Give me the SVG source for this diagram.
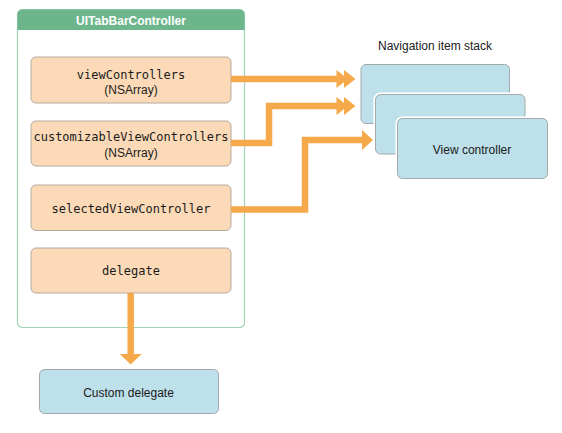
<svg xmlns="http://www.w3.org/2000/svg" width="562" height="433" viewBox="0 0 562 433">
<defs>
<style>
.prop{fill:#fcdab8;stroke:#b5aaa0;stroke-width:1}
.blue{fill:#bde0ea;stroke:#a3a8aa;stroke-width:1}
.halo{fill:none;stroke:#ffffff;stroke-width:4}
.mono{font-family:"DejaVu Sans Mono","Liberation Mono",monospace;font-size:12px;fill:#1a1a1a;text-anchor:middle}
.sans{font-family:"Liberation Sans",Arial,sans-serif;font-size:12px;fill:#1a1a1a;text-anchor:middle}
.wire{fill:none;stroke:#f6a94a;stroke-width:6.5;stroke-linejoin:miter}
.head{fill:#f6a94a}
</style>
</defs>
<rect width="562" height="433" fill="#ffffff"/>

<g id="tabbar">
<rect x="17.5" y="9.5" width="227" height="318" rx="5" fill="#ffffff" stroke="#9fd3b4" stroke-width="1.2"/>
<path d="M17.5 30 V14.5 a5 5 0 0 1 5 -5 H239.5 a5 5 0 0 1 5 5 V30 Z" fill="#6db68b"/>
<text x="131" y="24.5" font-family="Liberation Sans,Arial,sans-serif" font-size="12" font-weight="bold" fill="#ffffff" text-anchor="middle">UITabBarController</text>
</g>

<g id="viewControllers">
<rect class="prop" x="31" y="57" width="200" height="46" rx="5"/>
<text class="mono" x="131" y="79">viewControllers</text>
<text class="sans" x="131" y="94">(NSArray)</text>
</g>
<g id="customizableViewControllers">
<rect class="prop" x="31" y="121" width="200" height="45" rx="5"/>
<text class="mono" x="131" y="141">customizableViewControllers</text>
<text class="sans" x="131" y="157">(NSArray)</text>
</g>
<g id="selectedViewController">
<rect class="prop" x="31" y="185" width="200" height="45.5" rx="5"/>
<text class="mono" x="131" y="213">selectedViewController</text>
</g>
<g id="delegate">
<rect class="prop" x="31" y="248" width="200" height="45" rx="5"/>
<text class="mono" x="131" y="275">delegate</text>
</g>

<g id="navstack">
<text class="sans" x="435" y="50">Navigation item stack</text>
<rect class="halo" x="361" y="64.5" width="148.5" height="59" rx="5"/>
<rect class="blue" x="361" y="64.5" width="148.5" height="59" rx="5"/>
<rect class="halo" x="375.5" y="94.5" width="149.5" height="59.5" rx="5"/>
<rect class="blue" x="375.5" y="94.5" width="149.5" height="59.5" rx="5"/>
<rect class="halo" x="397.5" y="118.5" width="150" height="60" rx="5"/>
<rect class="blue" x="397.5" y="118.5" width="150" height="60" rx="5"/>
<text class="sans" x="472" y="153.5">View controller</text>
</g>

<g id="customDelegate">
<rect class="blue" x="39.5" y="369.5" width="179" height="44" rx="5"/>
<text class="sans" x="128.5" y="397">Custom delegate</text>
</g>

<g id="connectors">
<path class="wire" d="M231 79 H338"/>
<polygon class="head" points="336.5,70 348,79 336.5,88"/>
<polygon class="head" points="344,70 355.5,79 344,88"/>
<path class="wire" d="M231 143 H269 V106 H338"/>
<polygon class="head" points="336.5,97 348,106 336.5,115"/>
<polygon class="head" points="344,97 355.5,106 344,115"/>
<path class="wire" d="M231 209.5 H305 V140 H363"/>
<polygon class="head" points="362,130 373,140 362,150"/>
<path class="wire" d="M130.7 293 V355"/>
<polygon class="head" points="119.7,354 141.7,354 130.7,364.5"/>
</g>
</svg>
